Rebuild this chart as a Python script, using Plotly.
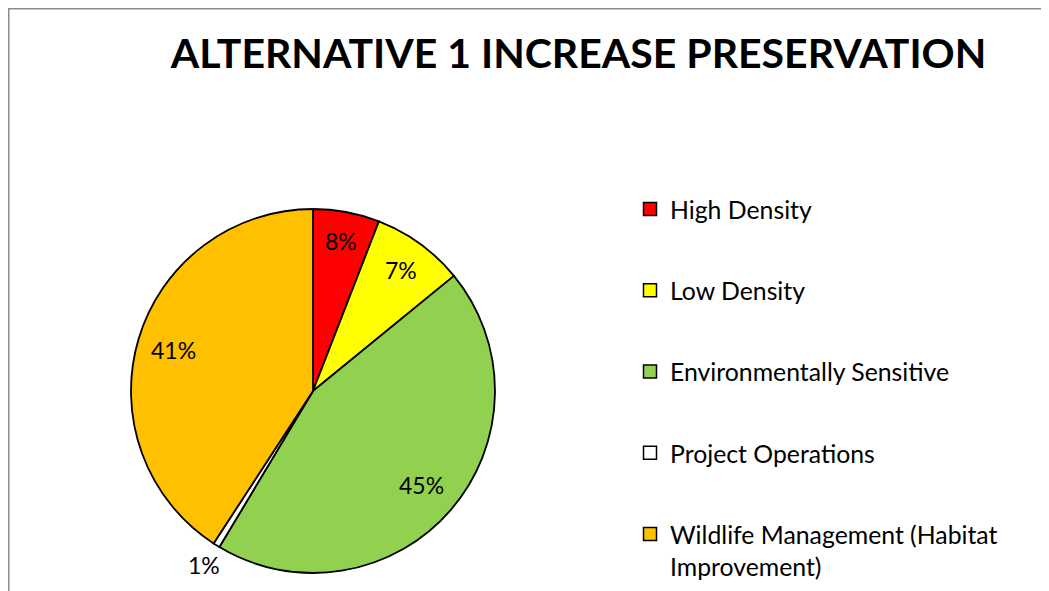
import math
import plotly.graph_objects as go

categories = ["High Density", "Low Density", "Environmentally Sensitive",
              "Project Operations", "Wildlife Management (Habitat<br>Improvement)"]
values = [5.9, 8.2, 44.5, 0.6, 40.8]
label_text = ["8%", "7%", "45%", "1%", "41%"]
label_radius = [0.84, 0.82, 0.79, 1.13, 0.8]
colors = ["#FF0000", "#FFFF00", "#92D050", "#FFFFFF", "#FFC000"]

W, H = 1049, 591
FONT = "Lato"
# figure-pixel geometry (page is offset by the default 8px body margin)
cx_px, cy_px, r_px = 305, 383, 182

fig = go.Figure()
fig.add_trace(go.Pie(
    labels=categories, values=values, sort=False, direction="clockwise",
    rotation=0, textinfo="none", showlegend=False,
    marker=dict(colors=colors, line=dict(color="#000000", width=1.8)),
    domain=dict(x=[(cx_px - r_px) / W, (cx_px + r_px) / W],
                y=[1 - (cy_px + r_px) / H, 1 - (cy_px - r_px) / H]),
    hoverinfo="label+percent",
))

# legend entries
for i, (c, col) in enumerate(zip(categories, colors)):
    fig.add_trace(go.Scatter(
        x=[None], y=[None], mode="markers", name=c, legendgroup=str(i),
        marker=dict(symbol="square", size=13, color=col,
                    line=dict(color="#000000", width=1.5)),
    ))

# data labels computed from slice angles
total = sum(values)
cum = 0
annotations = []
for v, t, rf in zip(values, label_text, label_radius):
    mid = (cum + v / 2) / total * 2 * math.pi
    cum += v
    dx = math.sin(mid) * r_px * rf
    dy = math.cos(mid) * r_px * rf
    annotations.append(dict(
        x=(cx_px + dx) / W, y=1 - (cy_px - dy) / H, xref="paper", yref="paper",
        text=t, showarrow=False, font=dict(family=FONT, size=23, color="#000000"),
        xanchor="center", yanchor="middle"))

fig.update_layout(
    width=W, height=H, margin=dict(l=0, r=0, t=0, b=0, autoexpand=False),
    paper_bgcolor="#FFFFFF", plot_bgcolor="#FFFFFF",
    title=dict(text="<b>ALTERNATIVE 1 INCREASE PRESERVATION</b>",
               x=570.5 / W, xanchor="center", y=1 - 46 / H, yanchor="middle",
               font=dict(family=FONT, size=41, color="#000000")),
    xaxis=dict(visible=False), yaxis=dict(visible=False),
    legend=dict(x=622 / W, xanchor="left", y=1 - 178.5 / H, yanchor="top",
                font=dict(family=FONT, size=24.8, color="#000000"),
                tracegroupgap=46, valign="top", bgcolor="rgba(0,0,0,0)",
                itemclick=False, itemdoubleclick=False),
    annotations=annotations,
    shapes=[dict(type="rect", xref="paper", yref="paper",
                 x0=0.75 / W, x1=1.05, y0=-0.05, y1=1 - 0.75 / H,
                 line=dict(color="#8C8C8C", width=1.5), fillcolor="rgba(0,0,0,0)",
                 layer="below")],
)

fig.write_html("out.html")
